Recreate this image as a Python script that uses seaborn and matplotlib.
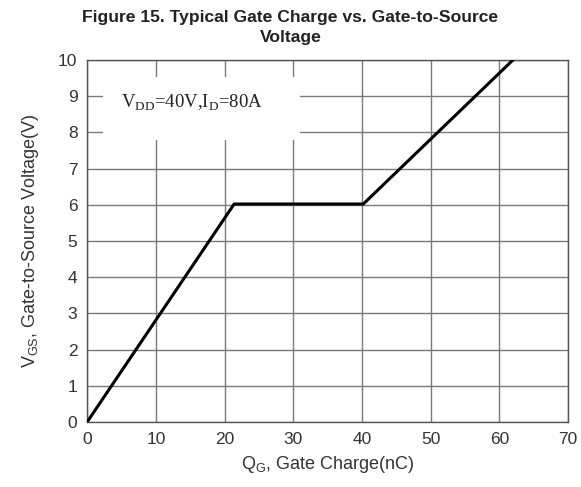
import matplotlib
matplotlib.use('Agg')
import matplotlib.pyplot as plt
import seaborn as sns
import pandas as pd
from matplotlib.patches import Rectangle

# data
qg_nc = [0, 21.4, 40.2, 62.0]
vgs_v = [0, 6.02, 6.02, 10.0]
x_ticks = [0, 10, 20, 30, 40, 50, 60, 70]
y_ticks = [0, 1, 2, 3, 4, 5, 6, 7, 8, 9, 10]

sns.set_style('white')
plt.rcParams['font.family'] = ['Liberation Sans', 'DejaVu Sans']
plt.rcParams['mathtext.fontset'] = 'custom'
plt.rcParams['mathtext.rm'] = 'Liberation Sans'
plt.rcParams['mathtext.it'] = 'Liberation Sans'

df = pd.DataFrame({'Qg': qg_nc, 'Vgs': vgs_v})

fig = plt.figure(figsize=(5.81, 4.87), dpi=100)
ax = fig.add_axes([0.150, 0.1335, 0.8276, 0.7435])

sns.lineplot(data=df, x='Qg', y='Vgs', color='black', linewidth=2.2, ax=ax, zorder=4)

ax.set_xlim(0, 70)
ax.set_ylim(0, 10)
ax.set_xticks(x_ticks)
ax.set_yticks(y_ticks)
ax.tick_params(axis='both', length=0, labelsize=12.5, pad=7, colors='#333333')
ax.grid(True, color='#7a7a7a', linewidth=1.0)
ax.set_axisbelow(True)
for s in ax.spines.values():
    s.set_color('#555555')
    s.set_linewidth(1.0)

# white box behind the annotation, hides the grid
ax.add_patch(Rectangle((2.3, 7.8), 28.7, 1.73, facecolor='white', edgecolor='none', zorder=2))
ax.text(5.0, 8.84, r'V$_{\mathregular{DD}}$=40V,I$_{\mathregular{D}}$=80A',
        family=['Liberation Serif', 'DejaVu Serif'], fontsize=13.5, va='center', ha='left',
        color='#222222', zorder=3)

ax.set_xlabel(r'Q$_{\mathregular{G}}$, Gate Charge(nC)', fontsize=13, color='#333333', labelpad=5)
ax.set_ylabel(r'V$_{\mathregular{GS}}$, Gate-to-Source Voltage(V)', fontsize=13, color='#333333', labelpad=12)

# title is centred on the figure, not the axes
fig.text(0.5, 0.98, 'Figure 15. Typical Gate Charge vs. Gate-to-Source\nVoltage',
         fontsize=12.6, fontweight='bold', color='#222222', linespacing=1.45,
         ha='center', va='top')

fig.savefig('out.png', dpi=100)
